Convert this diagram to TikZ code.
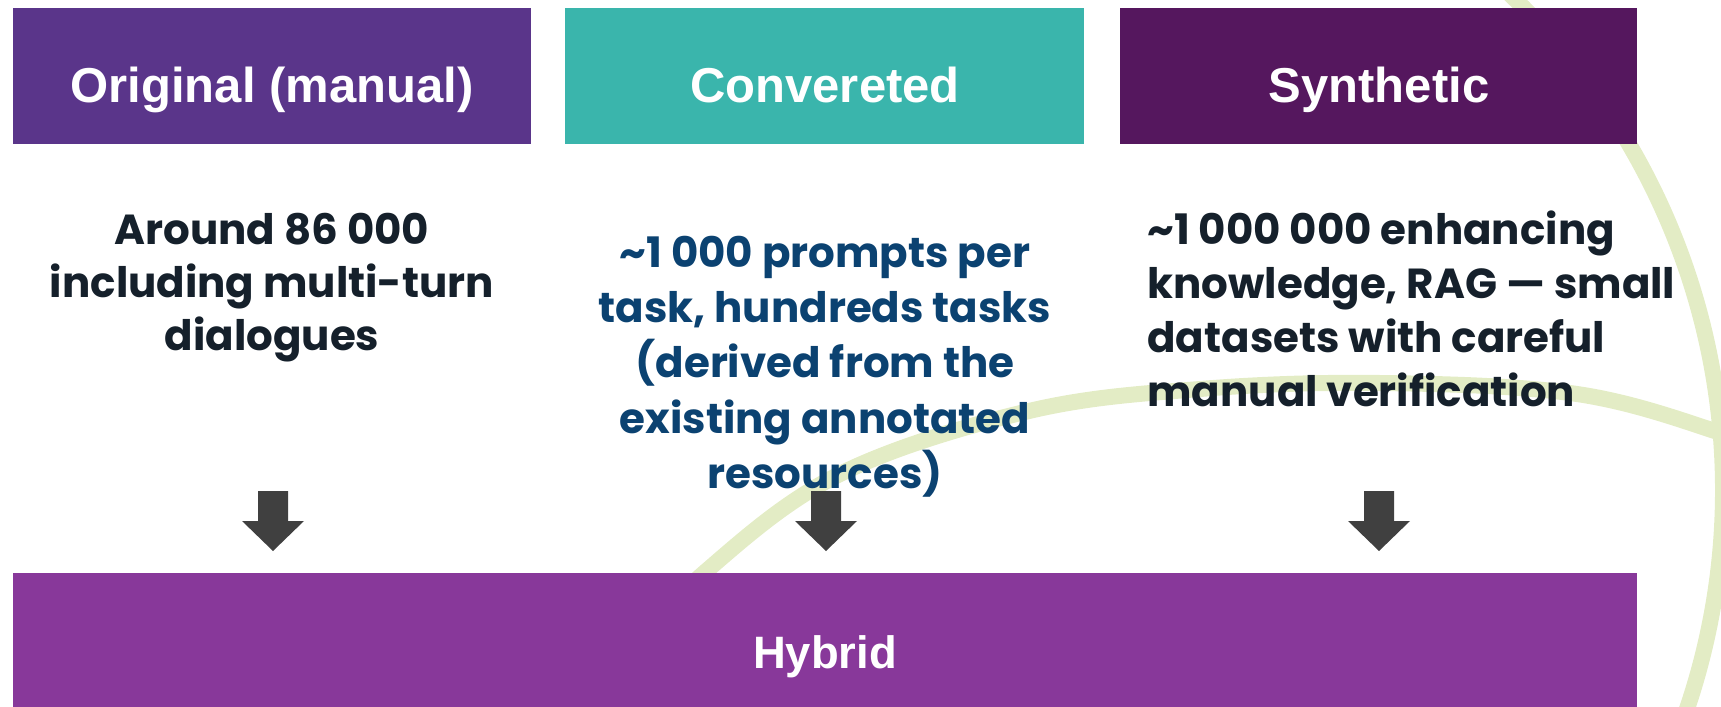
\documentclass[tikz,border=0pt]{standalone}
\usepackage{fontspec}
\setmainfont{Liberation Sans}
\newfontfamily\bodyfont{Poppins}
\definecolor{origpurple}{HTML}{5A358A}
\definecolor{convteal}{HTML}{3AB5AC}
\definecolor{synthplum}{HTML}{55175E}
\definecolor{hybridpurple}{HTML}{88389A}
\definecolor{arrowgrey}{HTML}{404040}
\definecolor{inkdark}{HTML}{15202B}
\definecolor{inkblue}{HTML}{0B4271}
\definecolor{wisp}{HTML}{E3ECC5}
\tikzset{
  headbox/.style={fill=#1, draw=none},
  headtext/.style={text=white, font=\bfseries\fontsize{24.5}{29}\selectfont, anchor=base, inner sep=0},
  bodytext/.style={font=\bodyfont\bfseries\fontsize{21}{#1}\selectfont, inner sep=0},
  downarrow/.style={fill=arrowgrey, draw=none},
  wispline/.style={draw=wisp, line width=8pt}
}
\begin{document}
\begin{tikzpicture}[x=0.5pt, y=-0.5pt]
\useasboundingbox (0,0) rectangle (1721,707);
\clip (0,0) rectangle (1721,707);

% decorative background sweeps
\draw[wispline] (1040,490) ++(-50:683) arc[start angle=-50, end angle=25, radius=683];
\draw[wispline] plot[smooth, tension=0.6] coordinates {(590,690) (704,573) (840,474)
  (1029,411) (1200,389) (1380,383) (1577,394) (1721,433) (1790,462)};

% column headers
\fill[headbox=origpurple] (13,8) rectangle (531,144);
\fill[headbox=convteal] (565,8) rectangle (1084,144);
\fill[headbox=synthplum] (1120,8) rectangle (1637,144);
\node[headtext] (horig) at (272,102) {Original (manual)};
\node[headtext] (hconv) at (825,102) {Convereted};
\node[headtext] (hsynth) at (1379,102) {Synthetic};

% descriptions
\node[bodytext=26.5, text=inkdark, anchor=base] (dorig) at (272,244)
  {\parbox[t]{260pt}{\centering Around 86 000\\including multi-turn\\dialogues}};
\node[bodytext=27.7, text=inkblue, anchor=base] (dconv) at (825,267)
  {\parbox[t]{270pt}{\centering \textasciitilde1 000 prompts per\\task, hundreds tasks\\(derived from the\\existing annotated\\resources)}};
\node[bodytext=27, text=inkdark, anchor=base west] (dsynth) at (1147,244)
  {\parbox[t]{300pt}{\raggedright \textasciitilde1 000 000 enhancing\\knowledge, RAG — small\\datasets with careful\\manual verification}};

% merged result
\fill[headbox=hybridpurple] (13,573) rectangle (1637,720);
\node[headtext, font=\bfseries\fontsize{22.7}{27}\selectfont] (hhyb) at (825,668) {Hybrid};

% block arrows
\foreach \cx/\nm in {273/aorig, 826/aconv, 1379/asynth}{
  \fill[downarrow] (\cx-15,491) -- (\cx+15,491) -- (\cx+15,521) -- (\cx+31,521)
    -- (\cx,551) -- (\cx-31,521) -- (\cx-15,521) -- cycle;
  \coordinate (\nm) at (\cx,551);
}
\end{tikzpicture}
\end{document}
